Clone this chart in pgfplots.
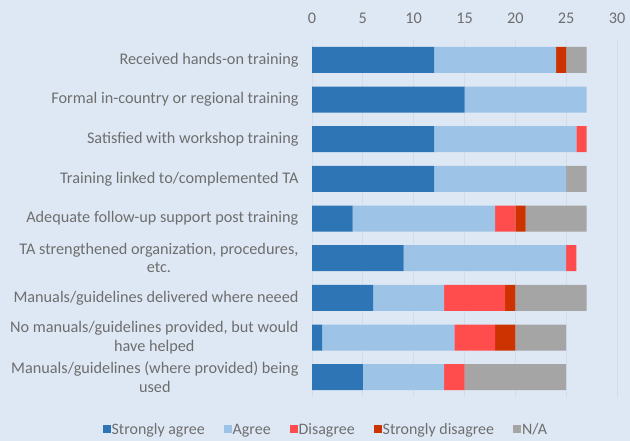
\documentclass[border=0pt]{standalone}
\usepackage{pgfplots}
\usepackage{pgfplotstable}
\pgfplotsset{compat=1.18}
\usepackage{fontspec}
\setmainfont{Carlito}
\definecolor{bgc}{HTML}{DEE8F4}
\definecolor{sa}{HTML}{2E75B6}
\definecolor{ag}{HTML}{9DC3E6}
\definecolor{di}{HTML}{FF4D4D}
\definecolor{sd}{HTML}{CC3300}
\definecolor{na}{HTML}{A5A5A5}
\definecolor{txt}{HTML}{6E6E6E}
\definecolor{gridc}{HTML}{D2DDEB}
\pgfplotstableread{
y sa ag di sd na
0 12 12 0 1 2
1 15 12 0 0 0
2 12 14 1 0 0
3 12 13 0 0 2
4 4 14 2 1 6
5 9 16 1 0 0
6 6 7 6 1 7
7 1 13 4 2 5
8 5 8 2 0 10
}\datatable
\begin{document}
\begin{tikzpicture}
\fill[bgc] (0,0) rectangle (630bp,441bp);
\begin{axis}[
  at={(312bp,44bp)}, anchor=south west,
  scale only axis, width=305bp, height=357bp,
  xbar stacked, bar width=26bp,
  xmin=0, xmax=30, xtick={0,5,...,30},
  ymin=-0.5, ymax=8.5, y dir=reverse,
  ytick={0,...,8},
  yticklabels={Received hands-on training,
    Formal in-country or regional training,
    Satisfied with workshop training,
    Training linked to/complemented TA,
    Adequate follow-up support post training,
    {TA strengthened organization, procedures,\\etc.},
    Manuals/guidelines delivered where neeed,
    {No manuals/guidelines provided, but would\\have helped},
    {Manuals/guidelines (where provided) being\\used}},
  xticklabel pos=top,
  axis line style={draw=none},
  major tick length=0pt,
  xmajorgrids, grid style={gridc, line width=0.8bp},
  ymajorgrids=false,
  every tick label/.append style={font=\fontsize{16.3}{18.5}\selectfont, text=txt},
  yticklabel style={align=center, xshift=-10bp},
  xticklabel style={yshift=13bp},
  /pgf/number format/assume math mode=true,
  legend style={draw=none, fill=none, at={(0.044,-0.092)}, anchor=center,
    legend columns=5, font=\fontsize{16}{18}\selectfont, text=txt,
    nodes={inner xsep=1bp},
    /tikz/every even column/.append style={column sep=18bp}},
  legend image code/.code={\fill[#1] (0bp,-3.5bp) rectangle (8bp,4.5bp);},
]
\addplot[draw=none, fill=sa] table[x=sa, y=y] {\datatable};
\addplot[draw=none, fill=ag] table[x=ag, y=y] {\datatable};
\addplot[draw=none, fill=di] table[x=di, y=y] {\datatable};
\addplot[draw=none, fill=sd] table[x=sd, y=y] {\datatable};
\addplot[draw=none, fill=na] table[x=na, y=y] {\datatable};
\legend{Strongly agree, Agree, Disagree, Strongly disagree, N/A}
\end{axis}
\pgfresetboundingbox
\path[use as bounding box] (0,0) rectangle (630bp,441bp);
\end{tikzpicture}
\end{document}
